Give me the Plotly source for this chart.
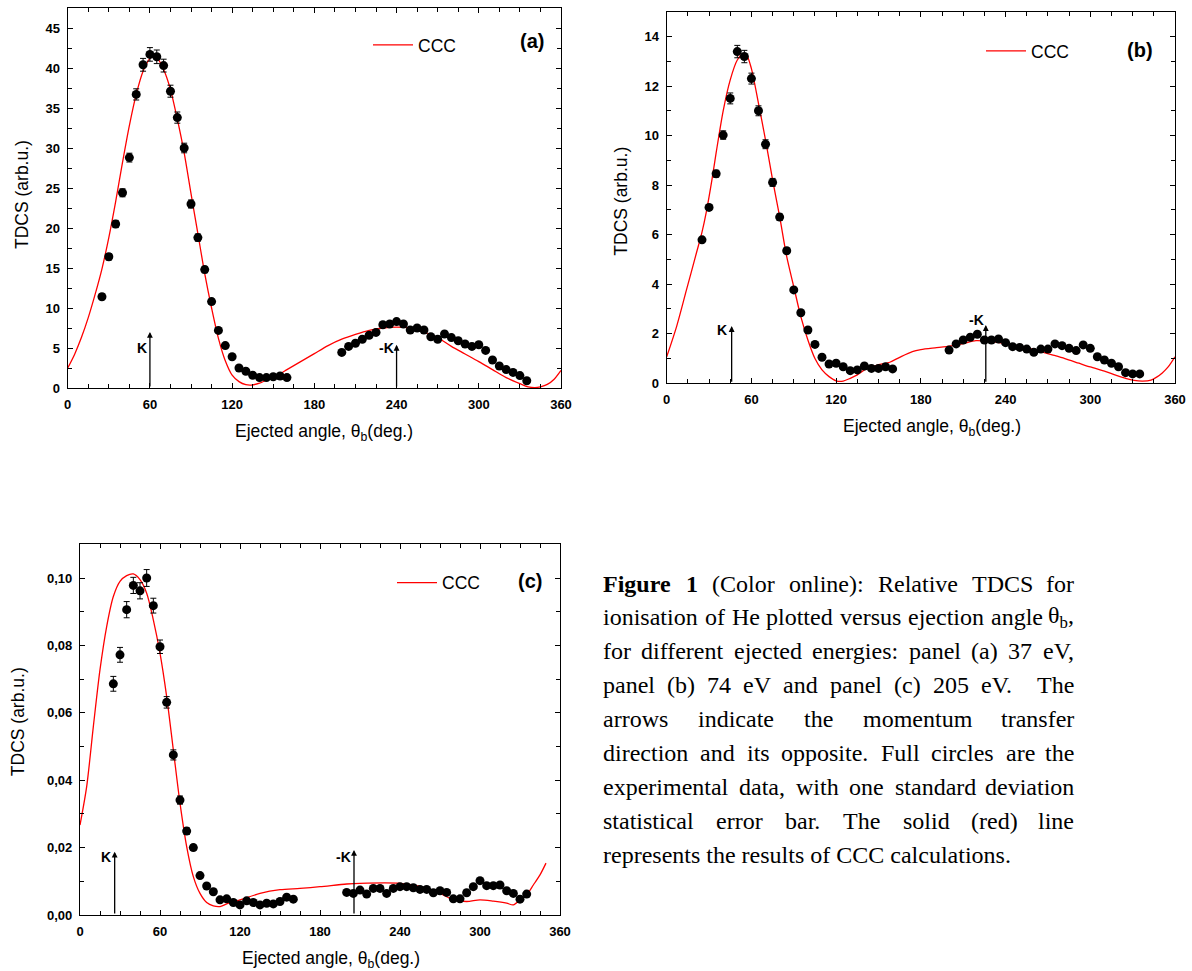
import re
import plotly.graph_objects as go

W, H = 1192, 971

# ---------------- data ----------------
ang_left = list(range(25, 165, 5))
ang_right = list(range(200, 340, 5))

# panel (a) 37 eV
a_exp_left = [11.4, 16.4, 20.5, 24.4, 28.8, 36.7, 40.4, 41.7, 41.4, 40.3, 37.1, 33.8, 30.0, 23.0,
              18.8, 14.8, 10.8, 7.2, 5.3, 3.9, 2.5, 2.1, 1.6, 1.3, 1.3, 1.4, 1.5, 1.3]
a_err_left = [0.35, 0.4, 0.45, 0.5, 0.55, 0.7, 0.8, 0.85, 0.85, 0.8, 0.75, 0.7, 0.6, 0.5,
              0.45, 0.4, 0.3, 0.25, 0.2, 0.2, 0.15, 0.15, 0.15, 0.1, 0.1, 0.1, 0.1, 0.1]
a_exp_right = [4.45, 5.2, 5.6, 6.1, 6.6, 6.95, 7.9, 8.0, 8.3, 8.0, 7.25, 7.5, 7.25, 6.4,
               6.1, 6.75, 6.3, 5.9, 5.5, 5.2, 5.4, 4.7, 3.5, 2.75, 2.3, 1.95, 1.55, 0.9]
a_err_right = [0.2] * 28
a_ccc_x = [0, 5, 10, 15, 20, 25, 30, 35, 40, 45, 50, 55, 60, 62, 65, 70, 75, 80, 85, 90, 95, 100,
           105, 110, 115, 120, 125, 130, 134, 140, 145, 150, 155, 160, 170, 180, 190, 200, 210,
           220, 230, 240, 250, 260, 270, 280, 290, 300, 310, 320, 330, 336, 341, 345, 350, 355, 360]
a_ccc_y = [2.5, 4.2, 6.3, 8.8, 11.7, 14.9, 18.8, 23.3, 28.2, 32.8, 36.7, 39.6, 41.2, 41.5, 41.3,
           39.8, 37.3, 33.6, 29.4, 24.3, 19.3, 14.3, 10.0, 6.2, 3.4, 1.6, 0.8, 0.42, 0.37, 0.6,
           1.0, 1.4, 1.8, 2.3, 3.3, 4.3, 5.3, 6.1, 6.7, 7.2, 7.5, 7.6, 7.5, 7.0, 6.3, 5.2, 4.25,
           3.3, 2.3, 1.3, 0.55, 0.15, 0.05, 0.15, 0.45, 1.1, 2.2]
a_k_x, a_k_top = [60, 240], [7.0, 5.4]
a_k_lab_x, a_k_lab_y = [54.0, 233.0], [5.0, 5.0]

# panel (b) 74 eV
b_exp_left = [5.79, 7.1, 8.46, 10.02, 11.5, 13.39, 13.19, 12.3, 11.0, 9.65, 8.11, 6.71, 5.35,
              3.77, 2.85, 2.15, 1.57, 1.05, 0.78, 0.81, 0.67, 0.51, 0.54, 0.70, 0.6, 0.6, 0.67, 0.58]
b_err_left = [0.1, 0.12, 0.14, 0.17, 0.22, 0.25, 0.25, 0.22, 0.2, 0.18, 0.16, 0.13, 0.1, 0.08,
              0.07, 0.06, 0.05, 0.04, 0.04, 0.04, 0.04, 0.04, 0.04, 0.04, 0.04, 0.04, 0.04, 0.04]
b_exp_right = [1.34, 1.59, 1.75, 1.86, 1.98, 1.75, 1.75, 1.79, 1.64, 1.48, 1.45, 1.38, 1.25,
               1.38, 1.38, 1.59, 1.52, 1.41, 1.32, 1.55, 1.41, 1.07, 0.94, 0.81, 0.67, 0.43, 0.38, 0.38]
b_err_right = [0.05] * 28
b_ccc_x = [0, 7, 14, 21, 25, 28, 32, 35, 40, 45, 50, 54, 57, 60, 65, 70, 75, 80, 85, 90, 95, 100,
           105, 110, 115, 120, 125, 130, 135, 140, 145, 150, 158, 165, 174, 180, 190, 198, 210,
           219, 230, 240, 250, 259, 265, 273, 282, 292, 300, 311, 318, 325, 331, 337, 343, 347,
           351, 355, 360]
b_ccc_y = [1.07, 2.29, 3.77, 5.25, 6.1, 6.9, 8.2, 9.3, 11.0, 12.25, 13.05, 13.3, 13.2, 12.7, 11.3,
           9.82, 8.21, 6.73, 5.11, 3.9, 2.69, 1.75, 1.0, 0.54, 0.27, 0.1, 0.09, 0.2, 0.34, 0.54,
           0.67, 0.75, 0.85, 1.05, 1.28, 1.36, 1.43, 1.48, 1.6, 1.72, 1.68, 1.6, 1.5, 1.38, 1.28,
           1.15, 1.0, 0.81, 0.66, 0.47, 0.33, 0.2, 0.12, 0.09, 0.13, 0.25, 0.42, 0.65, 1.07]
b_k_x, b_k_top = [46, 226], [2.31, 2.35]
b_k_lab_x, b_k_lab_y = [39.0, 219.5], [2.15, 2.55]

# panel (c) 205 eV
c_exp_left = [0.0686, 0.0772, 0.0906, 0.0978, 0.0962, 0.1000, 0.0918, 0.0796, 0.0631, 0.0475,
              0.0341, 0.0249, 0.0200, 0.0117, 0.0086, 0.0069, 0.0045, 0.0048, 0.0037, 0.0030,
              0.0042, 0.0037, 0.0030, 0.0035, 0.0033, 0.0040, 0.0053, 0.0047]
c_err_left = [0.0022, 0.0022, 0.0024, 0.0024, 0.0024, 0.0025, 0.0022, 0.0020, 0.0017, 0.0015,
              0.0012, 0.0010, 0.0008, 0.0006, 0.0005, 0.0004, 0.0004, 0.0004, 0.0003, 0.0003,
              0.0003, 0.0003, 0.0003, 0.0003, 0.0003, 0.0003, 0.0003, 0.0003]
c_exp_right = [0.0067, 0.0064, 0.0074, 0.0062, 0.0079, 0.0079, 0.0064, 0.0079, 0.0084, 0.0084,
               0.0081, 0.0076, 0.0076, 0.0066, 0.0072, 0.0067, 0.0048, 0.0048, 0.0066, 0.0084,
               0.0102, 0.0087, 0.0087, 0.0089, 0.0072, 0.0064, 0.0047, 0.0062]
c_err_right = [0.0003] * 28
c_ccc_x = [0, 5, 10, 15, 20, 25, 30, 35, 40, 45, 50, 55, 60, 65, 70, 75, 80, 85, 90, 95, 100, 105,
           110, 120, 135, 150, 165, 180, 200, 210, 240, 255, 270, 280, 290, 300, 310, 320, 325,
           330, 335, 340, 345, 349.5]
c_ccc_y = [0.0267, 0.0381, 0.0559, 0.0728, 0.0856, 0.0945, 0.0990, 0.1007, 0.1012, 0.0995,
           0.0955, 0.0876, 0.0777, 0.0648, 0.0490, 0.0332, 0.0203, 0.0114, 0.0064, 0.0037,
           0.0027, 0.0025, 0.0033, 0.0045, 0.0064, 0.0075, 0.0079, 0.0084, 0.0092, 0.0094,
           0.0094, 0.0085, 0.0064, 0.0045, 0.0040, 0.0045, 0.0041, 0.0035, 0.0030, 0.0045,
           0.0060, 0.0089, 0.0119, 0.0154]
c_k_x, c_k_top = [26, 205.5], [0.0188, 0.0193]
c_k_lab_x, c_k_lab_y = [19.5, 197.5], [0.0173, 0.0173]

x_ticks = [0, 60, 120, 180, 240, 300, 360]

caption_lines = [
    "<b>Figure</b> <b>1</b> (Color online): Relative TDCS for",
    "ionisation of He plotted versus ejection angle θ<sub>b</sub>,",
    "for different ejected energies: panel (a) 37 eV,",
    "panel (b) 74 eV and panel (c) 205 eV.  The",
    "arrows indicate the momentum transfer",
    "direction and its opposite. Full circles are the",
    "experimental data, with one standard deviation",
    "statistical error bar. The solid (red) line",
    "represents the results of CCC calculations.",
]

# ---------------- layout helpers ----------------
def px(x):
    return x / W


def py(y):
    return 1 - y / H


SANS = "Liberation Sans, Arial, sans-serif"
SERIF = "Liberation Serif, Times New Roman, serif"

panels = [
    dict(xd=[67.7, 561], yd=[8, 388], yr=[0, 47.5], ydt=5, ymin=2.5, fmt=None,
         left=a_exp_left, right=a_exp_right, el=a_err_left, er=a_err_right,
         cx=a_ccc_x, cy=a_ccc_y, kx=a_k_x, kt=a_k_top, klx=a_k_lab_x, kly=a_k_lab_y,
         tag="(a)", tag_xy=(532, 41), leg_xy=(368, 45),
         ytitle_xy=(22, 195), xtitle_xy=(324, 432)),
    dict(xd=[666.7, 1175], yd=[11.7, 383.3], yr=[0, 15], ydt=2, ymin=1, fmt=None,
         left=b_exp_left, right=b_exp_right, el=b_err_left, er=b_err_right,
         cx=b_ccc_x, cy=b_ccc_y, kx=b_k_x, kt=b_k_top, klx=b_k_lab_x, kly=b_k_lab_y,
         tag="(b)", tag_xy=(1139.5, 50), leg_xy=(981, 51),
         ytitle_xy=(621, 201.7), xtitle_xy=(932, 428)),
    dict(xd=[80, 560], yd=[544.3, 915], yr=[0, 0.11], ydt=0.02, ymin=0.01, fmt=".2f",
         left=c_exp_left, right=c_exp_right, el=c_err_left, er=c_err_right,
         cx=c_ccc_x, cy=c_ccc_y, kx=c_k_x, kt=c_k_top, klx=c_k_lab_x, kly=c_k_lab_y,
         tag="(c)", tag_xy=(530, 581), leg_xy=(392, 582.7),
         ytitle_xy=(17.5, 721.7), xtitle_xy=(331, 959)),
]

fig = go.Figure()
annotations = []
layout = dict(
    width=W, height=H, margin=dict(l=0, r=0, t=0, b=0, pad=0, autoexpand=False),
    paper_bgcolor="white", plot_bgcolor="white", separators=",.",
    font=dict(family=SANS, color="black"),
)

tick_font = dict(family=SANS, size=13, color="black", weight="bold")


def paper_note(x, y, text, font, **kw):
    d = dict(x=px(x), y=py(y), xref="paper", yref="paper", text=text, showarrow=False,
             xanchor="center", yanchor="middle", borderpad=0, font=font)
    d.update(kw)
    return d


for i, p in enumerate(panels, start=1):
    sx = "" if i == 1 else str(i)
    xa, ya = "x" + sx, "y" + sx
    legname = "legend" + sx
    xdom = [px(p["xd"][0]), px(p["xd"][1])]
    ydom = [py(p["yd"][1]), py(p["yd"][0])]
    common = dict(showline=True, linecolor="black", linewidth=1.2, mirror="ticks",
                  ticks="inside", ticklen=5, tickwidth=1, tickcolor="black", automargin=False,
                  showgrid=False, zeroline=False, tickfont=tick_font)
    layout["xaxis" + sx] = dict(domain=xdom, anchor=ya, range=[0, 360], tickvals=x_ticks,
                                minor=dict(dtick=15, tick0=0, ticks="inside", ticklen=4,
                                           tickcolor="black", showgrid=False),
                                ticklabelstandoff=4, **common)
    yax = dict(domain=ydom, anchor=xa, range=p["yr"], dtick=p["ydt"], tick0=0,
               minor=dict(dtick=p["ymin"], tick0=0, ticks="inside", ticklen=4,
                          tickcolor="black", showgrid=False),
               ticklabelstandoff=4, **common)
    if p["fmt"]:
        yax["tickformat"] = p["fmt"]
    layout["yaxis" + sx] = yax

    # CCC curve
    fig.add_trace(go.Scatter(x=p["cx"], y=p["cy"], mode="lines", name="CCC",
                             line=dict(color="#ff0000", width=1.3, shape="spline", smoothing=0.8),
                             xaxis=xa, yaxis=ya, legend=legname, showlegend=True))
    # experimental data
    fig.add_trace(go.Scatter(x=ang_left + ang_right, y=p["left"] + p["right"], mode="markers",
                             marker=dict(size=9, color="black"),
                             error_y=dict(type="data", array=p["el"] + p["er"], color="black",
                                          thickness=1, width=3),
                             xaxis=xa, yaxis=ya, showlegend=False))
    layout[legname] = dict(x=px(p["leg_xy"][0]), y=py(p["leg_xy"][1]), xanchor="left",
                           yanchor="middle", bgcolor="rgba(0,0,0,0)", borderwidth=0,
                           font=dict(family=SANS, size=17.5, color="black"),
                           itemwidth=40)

    # arrows K / -K
    for kx, kt, lx, ly, lab in zip(p["kx"], p["kt"], p["klx"], p["kly"], ["K", "-K"]):
        annotations.append(dict(x=kx, y=kt, ax=kx, ay=0, xref=xa, yref=ya, axref=xa, ayref=ya,
                                text="", showarrow=True, arrowhead=2, arrowsize=0.9,
                                arrowwidth=1.3, arrowcolor="black", standoff=0, startstandoff=0))
        annotations.append(dict(x=lx, y=ly, xref=xa, yref=ya, text=lab, showarrow=False,
                                xanchor="center", yanchor="middle",
                                font=dict(family=SANS, size=14, color="black", weight="bold")))
    # panel tag
    annotations.append(paper_note(p["tag_xy"][0], p["tag_xy"][1], "<b>%s</b>" % p["tag"],
                                  dict(family=SANS, size=20, color="black")))
    # axis titles
    annotations.append(paper_note(p["ytitle_xy"][0], p["ytitle_xy"][1], "TDCS (arb.u.)",
                                  dict(family=SANS, size=17.5, color="black"), textangle=-90))
    annotations.append(paper_note(p["xtitle_xy"][0], p["xtitle_xy"][1],
                                  "Ejected angle, θ<sub>b</sub>(deg.)",
                                  dict(family=SANS, size=17.5, color="black")))

# ---------------- caption (justified, Times metrics) ----------------
TR = {" ": 250, "(": 333, ")": 333, ",": 250, ".": 250, ":": 278, "θ": 500,
      "A": 722, "C": 667, "D": 722, "F": 556, "H": 722, "R": 667, "S": 556, "T": 611, "V": 722,
      "a": 444, "b": 500, "c": 444, "d": 500, "e": 444, "f": 333, "g": 500, "h": 500, "i": 278,
      "j": 278, "k": 500, "l": 278, "m": 778, "n": 500, "o": 500, "p": 500, "r": 333, "s": 389,
      "t": 278, "u": 500, "v": 500, "w": 722, "x": 500, "y": 500}
for d in "0123456789":
    TR[d] = 500
TB = dict(TR)
TB.update({"F": 611, "u": 556, "r": 444, "g": 500, "e": 444, "i": 278})

FS = 24
CAP_L, CAP_R = 602.3, 1075.0
cap_font = dict(family=SERIF, size=FS, color="black")


def word_width(word):
    bold, sub, w = False, False, 0.0
    for tok in re.findall(r"</?b>|</?sub>|.", word):
        if tok in ("<b>", "</b>"):
            bold = tok == "<b>"
            continue
        if tok in ("<sub>", "</sub>"):
            sub = tok == "<sub>"
            continue
        table = TB if bold else TR
        w += table.get(tok, 500) / 1000.0 * (0.7 if sub else 1.0)
    return w * FS


for li, line in enumerate(caption_lines):
    ymid = 583.5 + li * 33.9
    if li == len(caption_lines) - 1:
        annotations.append(paper_note(CAP_L, ymid, line, cap_font, xanchor="left"))
        continue
    words = line.split(" ")
    widths = [word_width(w) for w in words]
    gap = (CAP_R - CAP_L - sum(widths)) / (len(words) - 1)
    xcur = CAP_L
    for k, (w, ww) in enumerate(zip(words, widths)):
        if w:
            if k == len(words) - 1:
                annotations.append(paper_note(CAP_R, ymid, w, cap_font, xanchor="right"))
            else:
                annotations.append(paper_note(xcur, ymid, w, cap_font, xanchor="left"))
        xcur += ww + gap

layout["annotations"] = annotations
fig.update_layout(**layout)
fig.write_html("out.html")
